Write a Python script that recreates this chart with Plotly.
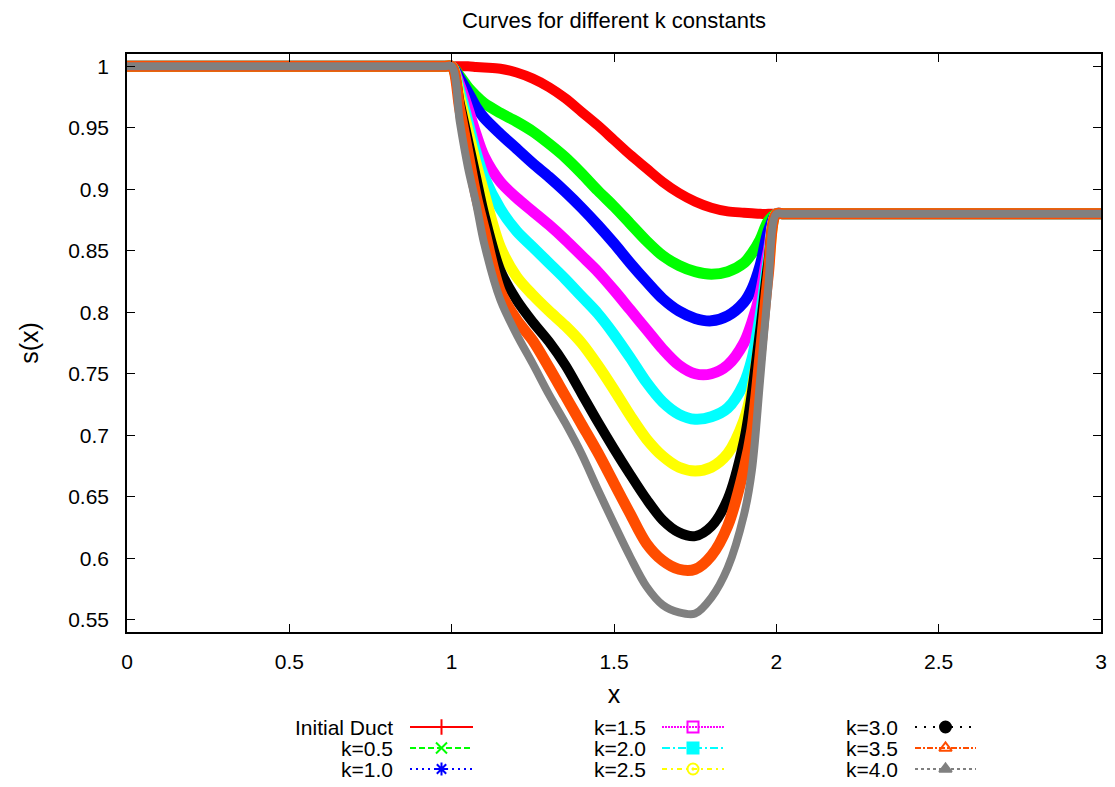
import plotly.graph_objects as go

# ---------------- data ----------------
x_vals = [0.0, 0.975, 1.0, 1.025, 1.05, 1.075, 1.1, 1.15, 1.2, 1.25, 1.3, 1.35, 1.4, 1.45,
          1.5, 1.55, 1.6, 1.65, 1.7, 1.75, 1.8, 1.85, 1.9, 1.925, 1.95, 1.975, 2.0, 2.025, 3.0]

initial_duct = [1.0, 1.0, 1.0, 1.0, 1.0, 0.9995, 0.999, 0.998, 0.995, 0.990, 0.983, 0.974, 0.963, 0.952,
                0.940, 0.928, 0.917, 0.906, 0.897, 0.890, 0.885, 0.882, 0.881, 0.8805, 0.880, 0.880, 0.880, 0.880, 0.880]
k_0_5 = [1.0, 1.0, 1.0, 0.992, 0.983, 0.976, 0.970, 0.962, 0.955, 0.947, 0.937, 0.926, 0.913, 0.899,
         0.886, 0.872, 0.858, 0.846, 0.838, 0.833, 0.831, 0.833, 0.840, 0.848, 0.859, 0.874, 0.880, 0.880, 0.880]
k_1_0 = [1.0, 1.0, 1.0, 0.990, 0.979, 0.967, 0.958, 0.945, 0.933, 0.921, 0.910, 0.898, 0.885, 0.871,
         0.856, 0.840, 0.825, 0.811, 0.801, 0.795, 0.793, 0.797, 0.808, 0.819, 0.838, 0.866, 0.880, 0.880, 0.880]
k_1_5 = [1.0, 1.0, 1.0, 0.985, 0.966, 0.945, 0.927, 0.906, 0.893, 0.882, 0.871, 0.859, 0.846, 0.833,
         0.818, 0.802, 0.786, 0.770, 0.757, 0.750, 0.750, 0.757, 0.775, 0.792, 0.815, 0.850, 0.880, 0.880, 0.880]
k_2_0 = [1.0, 1.0, 1.0, 0.980, 0.955, 0.930, 0.910, 0.884, 0.866, 0.853, 0.840, 0.827, 0.813, 0.799,
         0.782, 0.763, 0.743, 0.727, 0.717, 0.713, 0.715, 0.722, 0.742, 0.762, 0.797, 0.843, 0.880, 0.880, 0.880]
k_2_5 = [1.0, 1.0, 1.0, 0.975, 0.948, 0.921, 0.897, 0.853, 0.829, 0.814, 0.801, 0.789, 0.775, 0.757,
         0.737, 0.716, 0.697, 0.683, 0.674, 0.671, 0.674, 0.685, 0.712, 0.738, 0.780, 0.835, 0.880, 0.880, 0.880]
k_3_0 = [1.0, 1.0, 1.0, 0.970, 0.940, 0.910, 0.880, 0.834, 0.810, 0.792, 0.776, 0.757, 0.734, 0.711,
         0.689, 0.668, 0.648, 0.631, 0.621, 0.618, 0.626, 0.648, 0.695, 0.735, 0.785, 0.840, 0.880, 0.880, 0.880]
k_3_5 = [1.0, 1.0, 1.0, 0.965, 0.930, 0.895, 0.868, 0.817, 0.794, 0.777, 0.755, 0.732, 0.709, 0.686,
         0.661, 0.636, 0.612, 0.598, 0.591, 0.591, 0.602, 0.626, 0.672, 0.705, 0.765, 0.830, 0.880, 0.880, 0.880]
k_4_0 = [1.0, 1.0, 1.0, 0.955, 0.918, 0.889, 0.856, 0.810, 0.782, 0.758, 0.733, 0.710, 0.685, 0.656,
         0.628, 0.601, 0.577, 0.562, 0.556, 0.555, 0.568, 0.592, 0.635, 0.672, 0.745, 0.820, 0.880, 0.880, 0.880]

series_names = ["Initial Duct", "k=0.5", "k=1.0", "k=1.5", "k=2.0", "k=2.5", "k=3.0", "k=3.5", "k=4.0"]
series_values = [initial_duct, k_0_5, k_1_0, k_1_5, k_2_0, k_2_5, k_3_0, k_3_5, k_4_0]

x_ticks = [0, 0.5, 1, 1.5, 2, 2.5, 3]
x_tick_labels = ["0", "0.5", "1", "1.5", "2", "2.5", "3"]
y_ticks = [0.55, 0.6, 0.65, 0.7, 0.75, 0.8, 0.85, 0.9, 0.95, 1.0]
y_tick_labels = ["0.55", "0.6", "0.65", "0.7", "0.75", "0.8", "0.85", "0.9", "0.95", "1"]

# ---------------- styles ----------------
colors = ["#ff0000", "#00ff00", "#0000ff", "#ff00ff", "#00ffff", "#ffff00", "#000000", "#ff4d00", "#808080"]
widths = [10, 11, 11, 11, 11, 11, 10, 11, 8]
dashes = ["solid", "6px,3px", "2px,4px", "2px,1px", "8px,3px,2px,3px", "5px,4px,2px,4px",
          "2px,7px", "6px,2px,2px,2px", "3px,3px"]
symbols = ["cross-thin", "x-thin", "asterisk", "square-open", "square", "circle-open-dot",
           "circle", "triangle-up-open", "triangle-up"]

W, H = 1115, 787
L, R, T, B = 127, 1101, 54, 632      # plot-area box in pixels
LEG_TOP = 690                        # legend strip starts below this pixel row

fig = go.Figure()
for name, vals, c, w in zip(series_names, series_values, colors, widths):
    fig.add_trace(go.Scatter(x=x_vals, y=vals, mode="lines", name=name,
                             line=dict(color=c, width=w, shape="spline", smoothing=0.9),
                             showlegend=False, xaxis="x", yaxis="y"))

# ---------------- gnuplot-style key in its own pixel-scaled subplot ----------------
col_text_right = [395, 648, 900]
col_line = [(410, 473), (662, 724), (915, 976)]
row_y = [727, 748, 769]

mk_x, mk_y, mk_sym, mk_col = [], [], [], []
for i, name in enumerate(series_names):
    c, r = divmod(i, 3)
    x0, x1 = col_line[c]
    fig.add_trace(go.Scatter(x=[x0, x1], y=[row_y[r], row_y[r]], mode="lines",
                             xaxis="x3", yaxis="y3", showlegend=False, hoverinfo="skip",
                             line=dict(color=colors[i], width=2, dash=dashes[i])))
    fig.add_annotation(x=col_text_right[c], y=row_y[r], xref="x3", yref="y3",
                       text=name, showarrow=False, xanchor="right", yanchor="middle",
                       font=dict(size=21, color="black"))
    mk_x.append((x0 + x1) / 2)
    mk_y.append(row_y[r])
    mk_sym.append(symbols[i])
    mk_col.append(colors[i])

fig.add_trace(go.Scatter(x=mk_x, y=mk_y, xaxis="x3", yaxis="y3", mode="markers",
                         showlegend=False, hoverinfo="skip",
                         marker=dict(symbol=mk_sym, color=mk_col, size=11,
                                     line=dict(color=mk_col, width=2))))

axis_common = dict(showgrid=False, zeroline=False, showline=True, linecolor="black",
                   linewidth=1.5, mirror="ticks", ticks="inside", ticklen=8,
                   tickwidth=1, tickcolor="black", tickfont=dict(size=21, color="black"),
                   automargin=False)

fig.update_layout(
    width=W, height=H,
    margin=dict(l=0, r=0, t=0, b=0),
    paper_bgcolor="white", plot_bgcolor="white",
    font=dict(family="Liberation Sans, Arial, sans-serif", size=21, color="black"),
    title=dict(text="Curves for different k constants", x=(L + R) / 2 / W, xref="container",
               xanchor="center", y=1 - 20 / H, yref="container", yanchor="middle",
               font=dict(size=22), automargin=False),
    xaxis=dict(domain=[L / W, R / W], range=[0, 3], tickvals=x_ticks, ticktext=x_tick_labels,
               title=dict(text="x", standoff=14), ticklabelstandoff=10, anchor="y",
               **axis_common),
    yaxis=dict(domain=[(H - B) / H, (H - T) / H], range=[0.54, 1.01], tickvals=y_ticks,
               ticktext=y_tick_labels, title=dict(text="s(x)", standoff=22),
               ticklabelstandoff=12, anchor="x", **axis_common),
    xaxis3=dict(domain=[0, 1], range=[0, W], visible=False, anchor="y3", fixedrange=True,
                automargin=False),
    yaxis3=dict(domain=[0, (H - LEG_TOP) / H], range=[H, LEG_TOP], visible=False,
                anchor="x3", fixedrange=True, automargin=False),
)

fig.write_html("out.html", config={"displayModeBar": False},
               post_script="document.body.style.margin='0';")
